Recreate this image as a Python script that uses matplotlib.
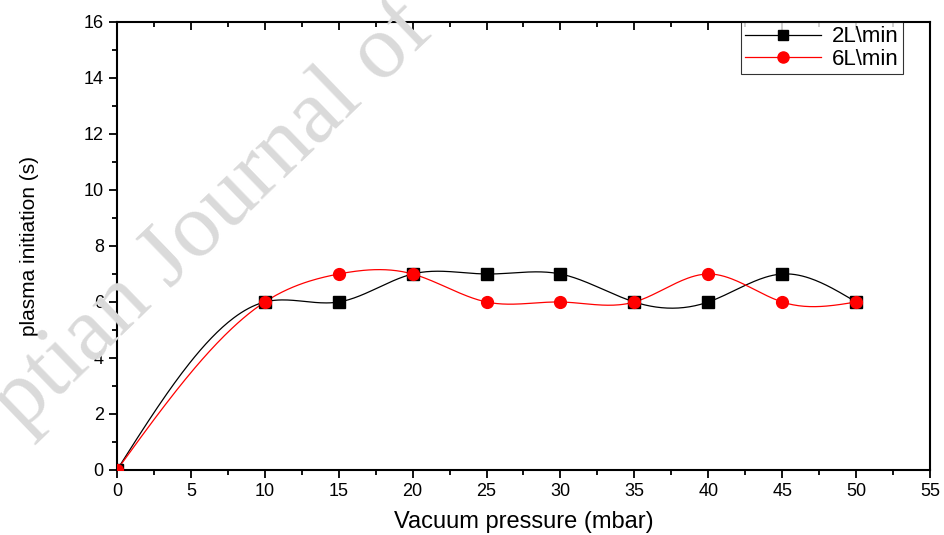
import numpy as np
import matplotlib
matplotlib.use("Agg")
import matplotlib.pyplot as plt
from matplotlib.ticker import MultipleLocator
from matplotlib.lines import TICKDOWN

# data
pressure = [0, 10, 15, 20, 25, 30, 35, 40, 45, 50]
flow_2l = [0, 6, 6, 7, 7, 7, 6, 6, 7, 6]
flow_6l = [0, 6, 7, 7, 6, 6, 6, 7, 6, 6]
labels = ["2L\\min", "6L\\min"]


def natural_spline(x, y, n=400):
    """Natural cubic spline through (x, y), like Origin's spline connect."""
    x = np.asarray(x, float)
    y = np.asarray(y, float)
    k = len(x)
    h = np.diff(x)
    A = np.zeros((k, k))
    r = np.zeros(k)
    A[0, 0] = A[-1, -1] = 1.0
    for i in range(1, k - 1):
        A[i, i - 1] = h[i - 1]
        A[i, i] = 2 * (h[i - 1] + h[i])
        A[i, i + 1] = h[i]
        r[i] = 3 * ((y[i + 1] - y[i]) / h[i] - (y[i] - y[i - 1]) / h[i - 1])
    c = np.linalg.solve(A, r)
    b = (y[1:] - y[:-1]) / h - h * (2 * c[:-1] + c[1:]) / 3
    d = (c[1:] - c[:-1]) / (3 * h)
    xs = np.linspace(x[0], x[-1], n)
    idx = np.clip(np.searchsorted(x, xs, side="right") - 1, 0, k - 2)
    dx = xs - x[idx]
    ys = y[idx] + b[idx] * dx + c[idx] * dx ** 2 + d[idx] * dx ** 3
    return xs, ys


plt.rcParams["font.family"] = ["Liberation Sans", "DejaVu Sans"]

fig = plt.figure(figsize=(9.45, 5.35), dpi=100)
ax = fig.add_axes([0.1238, 0.1215, 0.8603, 0.8374])

# faint watermark behind the plot
fig.text(0.225, 0.595, "ptian Journal of", family="Liberation Serif",
         fontsize=66, color="#dadada", rotation=44, ha="center", va="center",
         zorder=0)
ax.patch.set_alpha(0)

xs, ys = natural_spline(pressure, flow_2l)
ax.plot(xs, ys, color="black", lw=0.9, zorder=3)
xs, ys = natural_spline(pressure, flow_6l)
ax.plot(xs, ys, color="red", lw=0.9, zorder=3)

ax.plot(pressure, flow_2l, ls="none", marker="s", ms=8, color="black", zorder=4)
ax.plot(pressure, flow_6l, ls="none", marker="o", ms=8.5, color="red", zorder=5)

# legend handles: line with marker in the middle
h1, = ax.plot([], [], color="black", lw=0.9, marker="s", ms=7)
h2, = ax.plot([], [], color="red", lw=0.9, marker="o", ms=8)
leg = ax.legend([h1, h2], labels, loc="upper right", bbox_to_anchor=(0.967, 1.0),
                fontsize=16, frameon=True, fancybox=False, edgecolor="black",
                handlelength=3.4, borderpad=0.2, labelspacing=0.05,
                handletextpad=0.5, borderaxespad=0.0)
leg.get_frame().set_linewidth(0.8)

ax.set_xlim(0, 55)
ax.set_ylim(0, 16)
ax.xaxis.set_major_locator(MultipleLocator(5))
ax.xaxis.set_minor_locator(MultipleLocator(2.5))
ax.yaxis.set_major_locator(MultipleLocator(2))
ax.yaxis.set_minor_locator(MultipleLocator(1))

ax.tick_params(which="both", direction="out", top=True, right=False, labelsize=13,
               width=1.3, colors="black")
ax.tick_params(which="major", length=6)
ax.tick_params(which="minor", length=3.5)
for side in ["left", "bottom", "top", "right"]:
    ax.spines[side].set_linewidth(1.5)

# top ticks point inward like the reference
for t in ax.xaxis.get_major_ticks() + ax.xaxis.get_minor_ticks():
    t.tick2line.set_marker(TICKDOWN)

ax.set_xlabel("Vacuum pressure (mbar)", fontsize=17, labelpad=8)
ax.set_ylabel("plasma initiation (s)", fontsize=15, labelpad=32)

fig.savefig("out.png", dpi=100)
